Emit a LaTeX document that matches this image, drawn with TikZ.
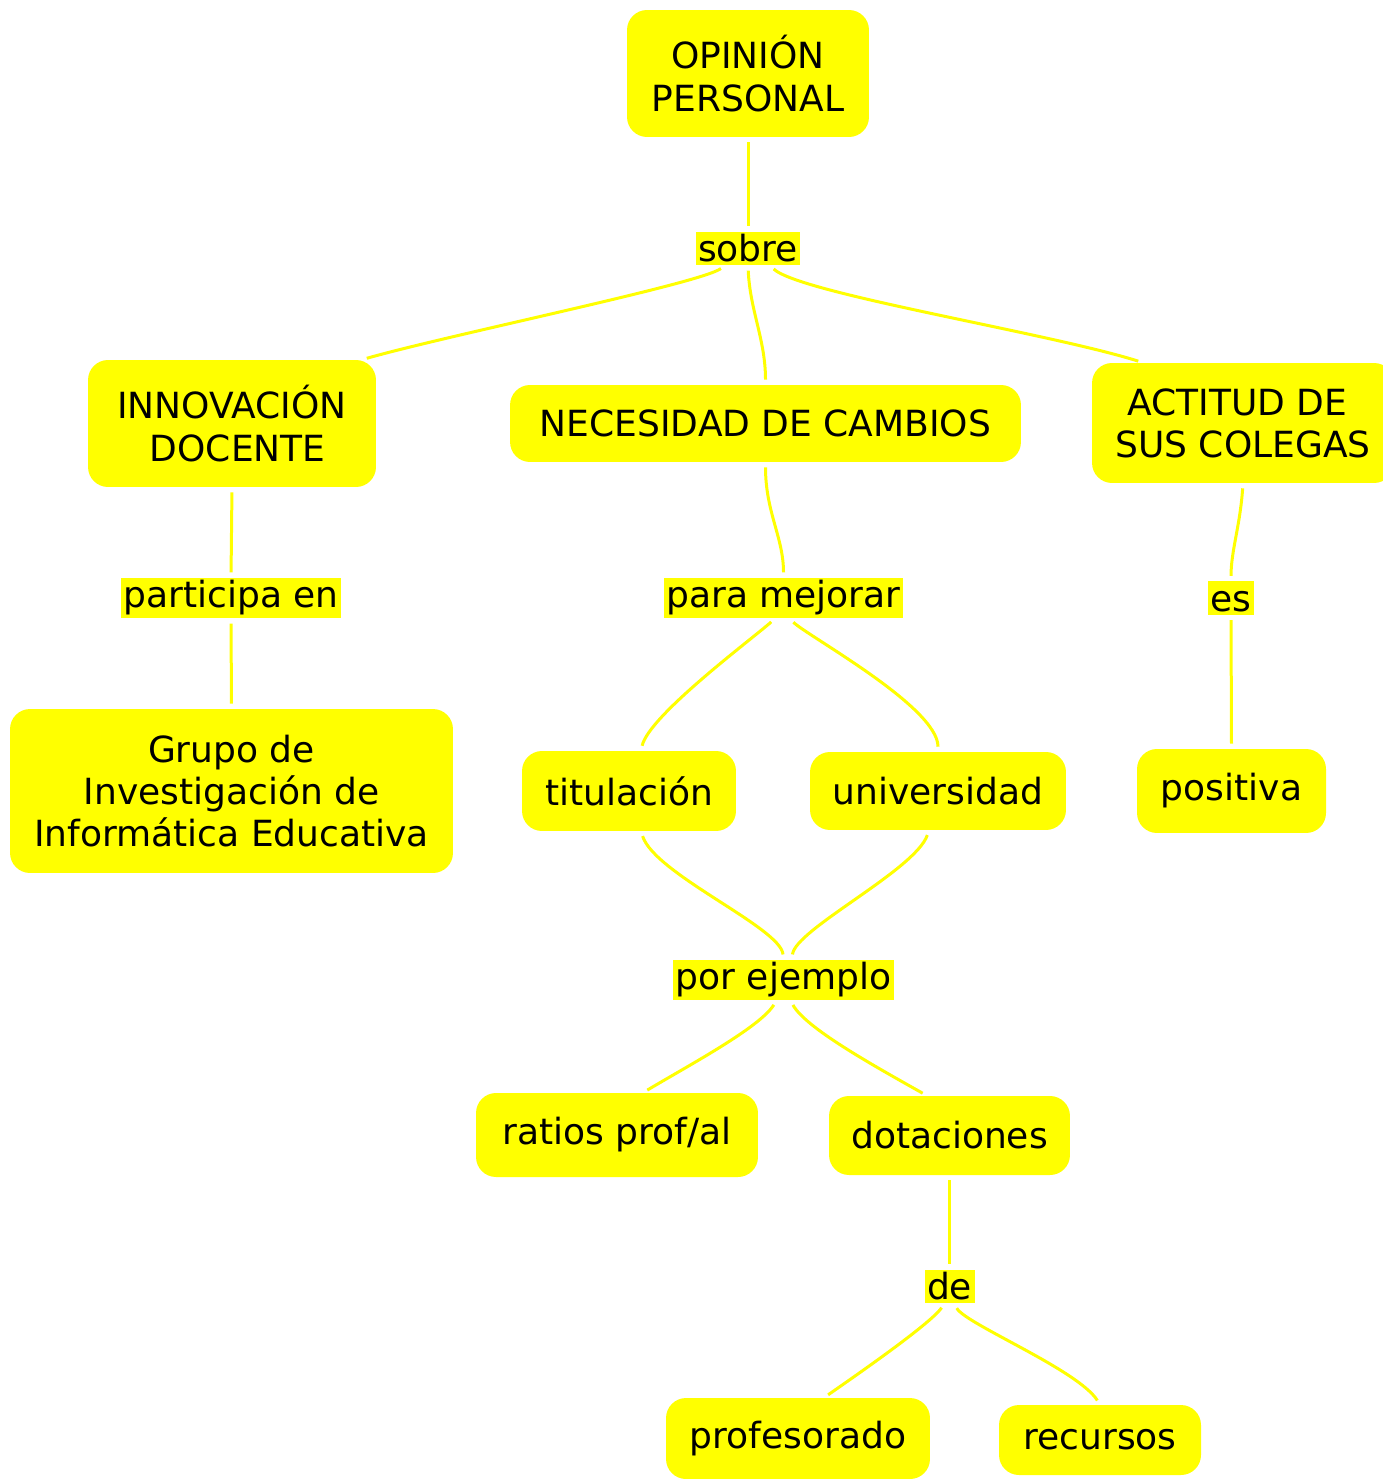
\documentclass[tikz,border=0pt]{standalone}
\usepackage{fontspec}
\setmainfont{DejaVu Sans}
\definecolor{mapyellow}{RGB}{255,255,0}
\begin{document}
\begin{tikzpicture}[x=0.02cm, y=-0.02cm,
                    concept/.style = {fill=mapyellow, rounded corners=0.4cm, align=center, inner sep=0pt, font=\fontsize{20.5}{24}\selectfont},
                    link/.style = {fill=mapyellow, inner xsep=0.05cm, inner ysep=0.06cm, text height=0.54cm, font=\fontsize{20.5}{24}\selectfont},
                    conn/.style = {draw=mapyellow, line width=0.06cm, shorten <=0.1cm, shorten >=0.1cm}]
                    \useasboundingbox (0,0) rectangle (1382,1479);

                    \node[concept, minimum width=4.84cm, minimum height=2.54cm] (op) at (748,73.5) {OPINIÓN\\PERSONAL};
                    \node[link] (sobre) at (748,248.5) {sobre};

                    \node[concept, minimum width=5.76cm, minimum height=2.54cm] (inno) at (232,423.5) {INNOVACIÓN\\\mbox{}\ DOCENTE};
                    \node[concept, minimum width=10.22cm, minimum height=1.54cm] (nec) at (765.5,423.5) {NECESIDAD DE CAMBIOS};
                    \node[concept, minimum width=6.04cm, minimum height=2.4cm] (act) at (1243,423) {ACTITUD DE\ \mbox{}\\SUS COLEGAS};

                    \node[link] (part) at (231,598) {participa en};
                    \node[link] (pm) at (783.5,598) {para mejorar};
                    \node[link] (es) at (1231,598) {es};

                    \node[concept, minimum width=8.86cm, minimum height=3.28cm] (grupo) at (231.5,791) {Grupo de\\Investigación de\\Informática Educativa};
                    \node[concept, minimum width=4.28cm, minimum height=1.6cm] (tit) at (629,791) {titulación};
                    \node[concept, minimum width=5.12cm, minimum height=1.56cm] (univ) at (938,791) {universidad};
                    \node[concept, minimum width=3.78cm, minimum height=1.68cm] (pos) at (1231.5,791) {positiva};

                    \node[link] (pe) at (783.5,980) {por ejemplo};

                    \node[concept, minimum width=5.64cm, minimum height=1.68cm] (ratios) at (617,1135) {ratios prof/al};
                    \node[concept, minimum width=4.82cm, minimum height=1.58cm] (dot) at (949.5,1135.5) {dotaciones};

                    \node[link] (de) at (949.5,1286.5) {de};

                    \node[concept, minimum width=5.28cm, minimum height=1.62cm] (prof) at (798,1438.5) {profesorado};
                    \node[concept, minimum width=4.04cm, minimum height=1.4cm] (rec) at (1100,1440) {recursos};

                    \draw[conn] (op.south) -- (sobre.north);
                    \draw[conn] ([xshift=-0.46cm]sobre.south) .. controls +(-25,18) and +(88,-25) .. ([xshift=2.6cm]inno.north);
                    \draw[conn] (sobre.south) .. controls +(2,45) and +(0,-45) .. (nec.north);
                    \draw[conn] ([xshift=0.44cm]sobre.south) .. controls +(30,28) and +(-95,-30) .. ([xshift=-2cm]act.north);

                    \draw[conn] (inno.south) -- (part.north);
                    \draw[conn] (part.south) -- (grupo.north);
                    \draw[conn] (nec.south) .. controls +(0,50) and +(0,-40) .. (pm.north);
                    \draw[conn] (act.south) .. controls +(-3,43) and +(0,-30) .. (es.north);
                    \draw[conn] (es.south) -- (pos.north);

                    \draw[conn] ([xshift=-0.17cm]pm.south) .. controls +(-25,22) and +(8,-35) .. ([xshift=0.24cm]tit.north);
                    \draw[conn] ([xshift=0.13cm]pm.south) .. controls +(15,16) and +(0,-45) .. (univ.north);

                    \draw[conn] ([xshift=0.24cm]tit.south) .. controls +(14,43) and +(-3,-32) .. (pe.north);
                    \draw[conn] ([xshift=-0.18cm]univ.south) .. controls +(-14,40) and +(3,-30) .. ([xshift=0.17cm]pe.north);

                    \draw[conn] ([xshift=-0.14cm]pe.south) .. controls +(-17,27) and +(47,-28) .. ([xshift=0.52cm]ratios.north);
                    \draw[conn] ([xshift=0.14cm]pe.south) .. controls +(15,27) and +(-57,-32) .. ([xshift=-0.45cm]dot.north);

                    \draw[conn] (dot.south) -- (de.north);
                    \draw[conn] ([xshift=-0.1cm]de.south) .. controls +(-14,20) and +(36,-25) .. ([xshift=0.52cm]prof.north);
                    \draw[conn] ([xshift=0.1cm]de.south) .. controls +(10,20) and +(-22,-35) .. (rec.north);
                \end{tikzpicture}
\end{document}
